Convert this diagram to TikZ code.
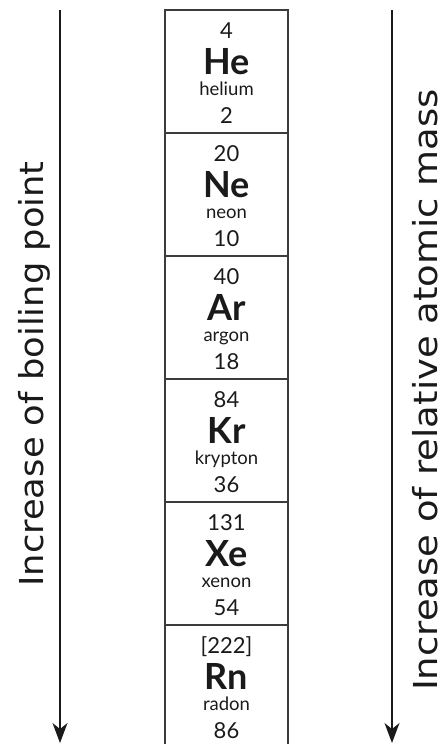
\documentclass[tikz,border=0pt]{standalone}
\usepackage{fontspec}
\setmainfont{Lato}
\newfontfamily\sidefont{DejaVu Sans}
\usetikzlibrary{arrows.meta}
\definecolor{ink}{HTML}{1A1A1A}
\tikzset{
  elbox/.style={draw=ink!85, line width=1.3pt, minimum width=123pt, minimum height=123pt, inner sep=0pt, outer sep=0pt},
  massnum/.style={font=\fontsize{22}{22}\selectfont, text=ink, inner sep=0pt, anchor=base},
  symb/.style={font=\fontsize{36}{36}\selectfont\bfseries, text=ink, inner sep=0pt, anchor=base},
  elname/.style={font=\fontsize{18.5}{18.5}\selectfont, text=ink, inner sep=0pt, anchor=base},
  sidelabel/.style={font=\sidefont\fontsize{33}{33}\selectfont, text=ink, rotate=90, inner sep=0pt, anchor=base},
  trendarrow/.style={draw=ink, line width=1.3pt, -{Stealth[length=20pt,width=15pt,inset=6pt]}}
}
\begin{document}
\begin{tikzpicture}[x=1pt,y=-1pt]
\useasboundingbox (0,0) rectangle (441,744);
\foreach \i/\m/\s/\n/\z in {0/4/He/helium/2,1/20/Ne/neon/10,2/40/Ar/argon/18,3/84/Kr/krypton/36,4/131/Xe/xenon/54,5/{[222]}/Rn/radon/86}{
  \node[elbox, anchor=north west] (box\i) at (165,{10+123*\i}) {};
  \node[massnum] (mass\i) at ([yshift=-28pt]box\i.north) {\m};
  \node[symb] (sym\i) at ([yshift=-64pt]box\i.north) {\s};
  \node[elname] (name\i) at ([yshift=-85pt]box\i.north) {\n};
  \node[massnum] (num\i) at ([yshift=-113pt]box\i.north) {\z};
}
\coordinate (la) at (60,10);
\coordinate (lb) at (60,743);
\coordinate (ra) at (392,10);
\coordinate (rb) at (392,743);
\draw[trendarrow] (la) -- (lb);
\draw[trendarrow] (ra) -- (rb);
\node[sidelabel] (bp) at (43,374) {\scalebox{1.07}[1]{Increase of boiling point}};
\node[sidelabel] (am) at (437,390) {\scalebox{1.12}[1]{Increase of relative atomic mass}};
\end{tikzpicture}
\end{document}
